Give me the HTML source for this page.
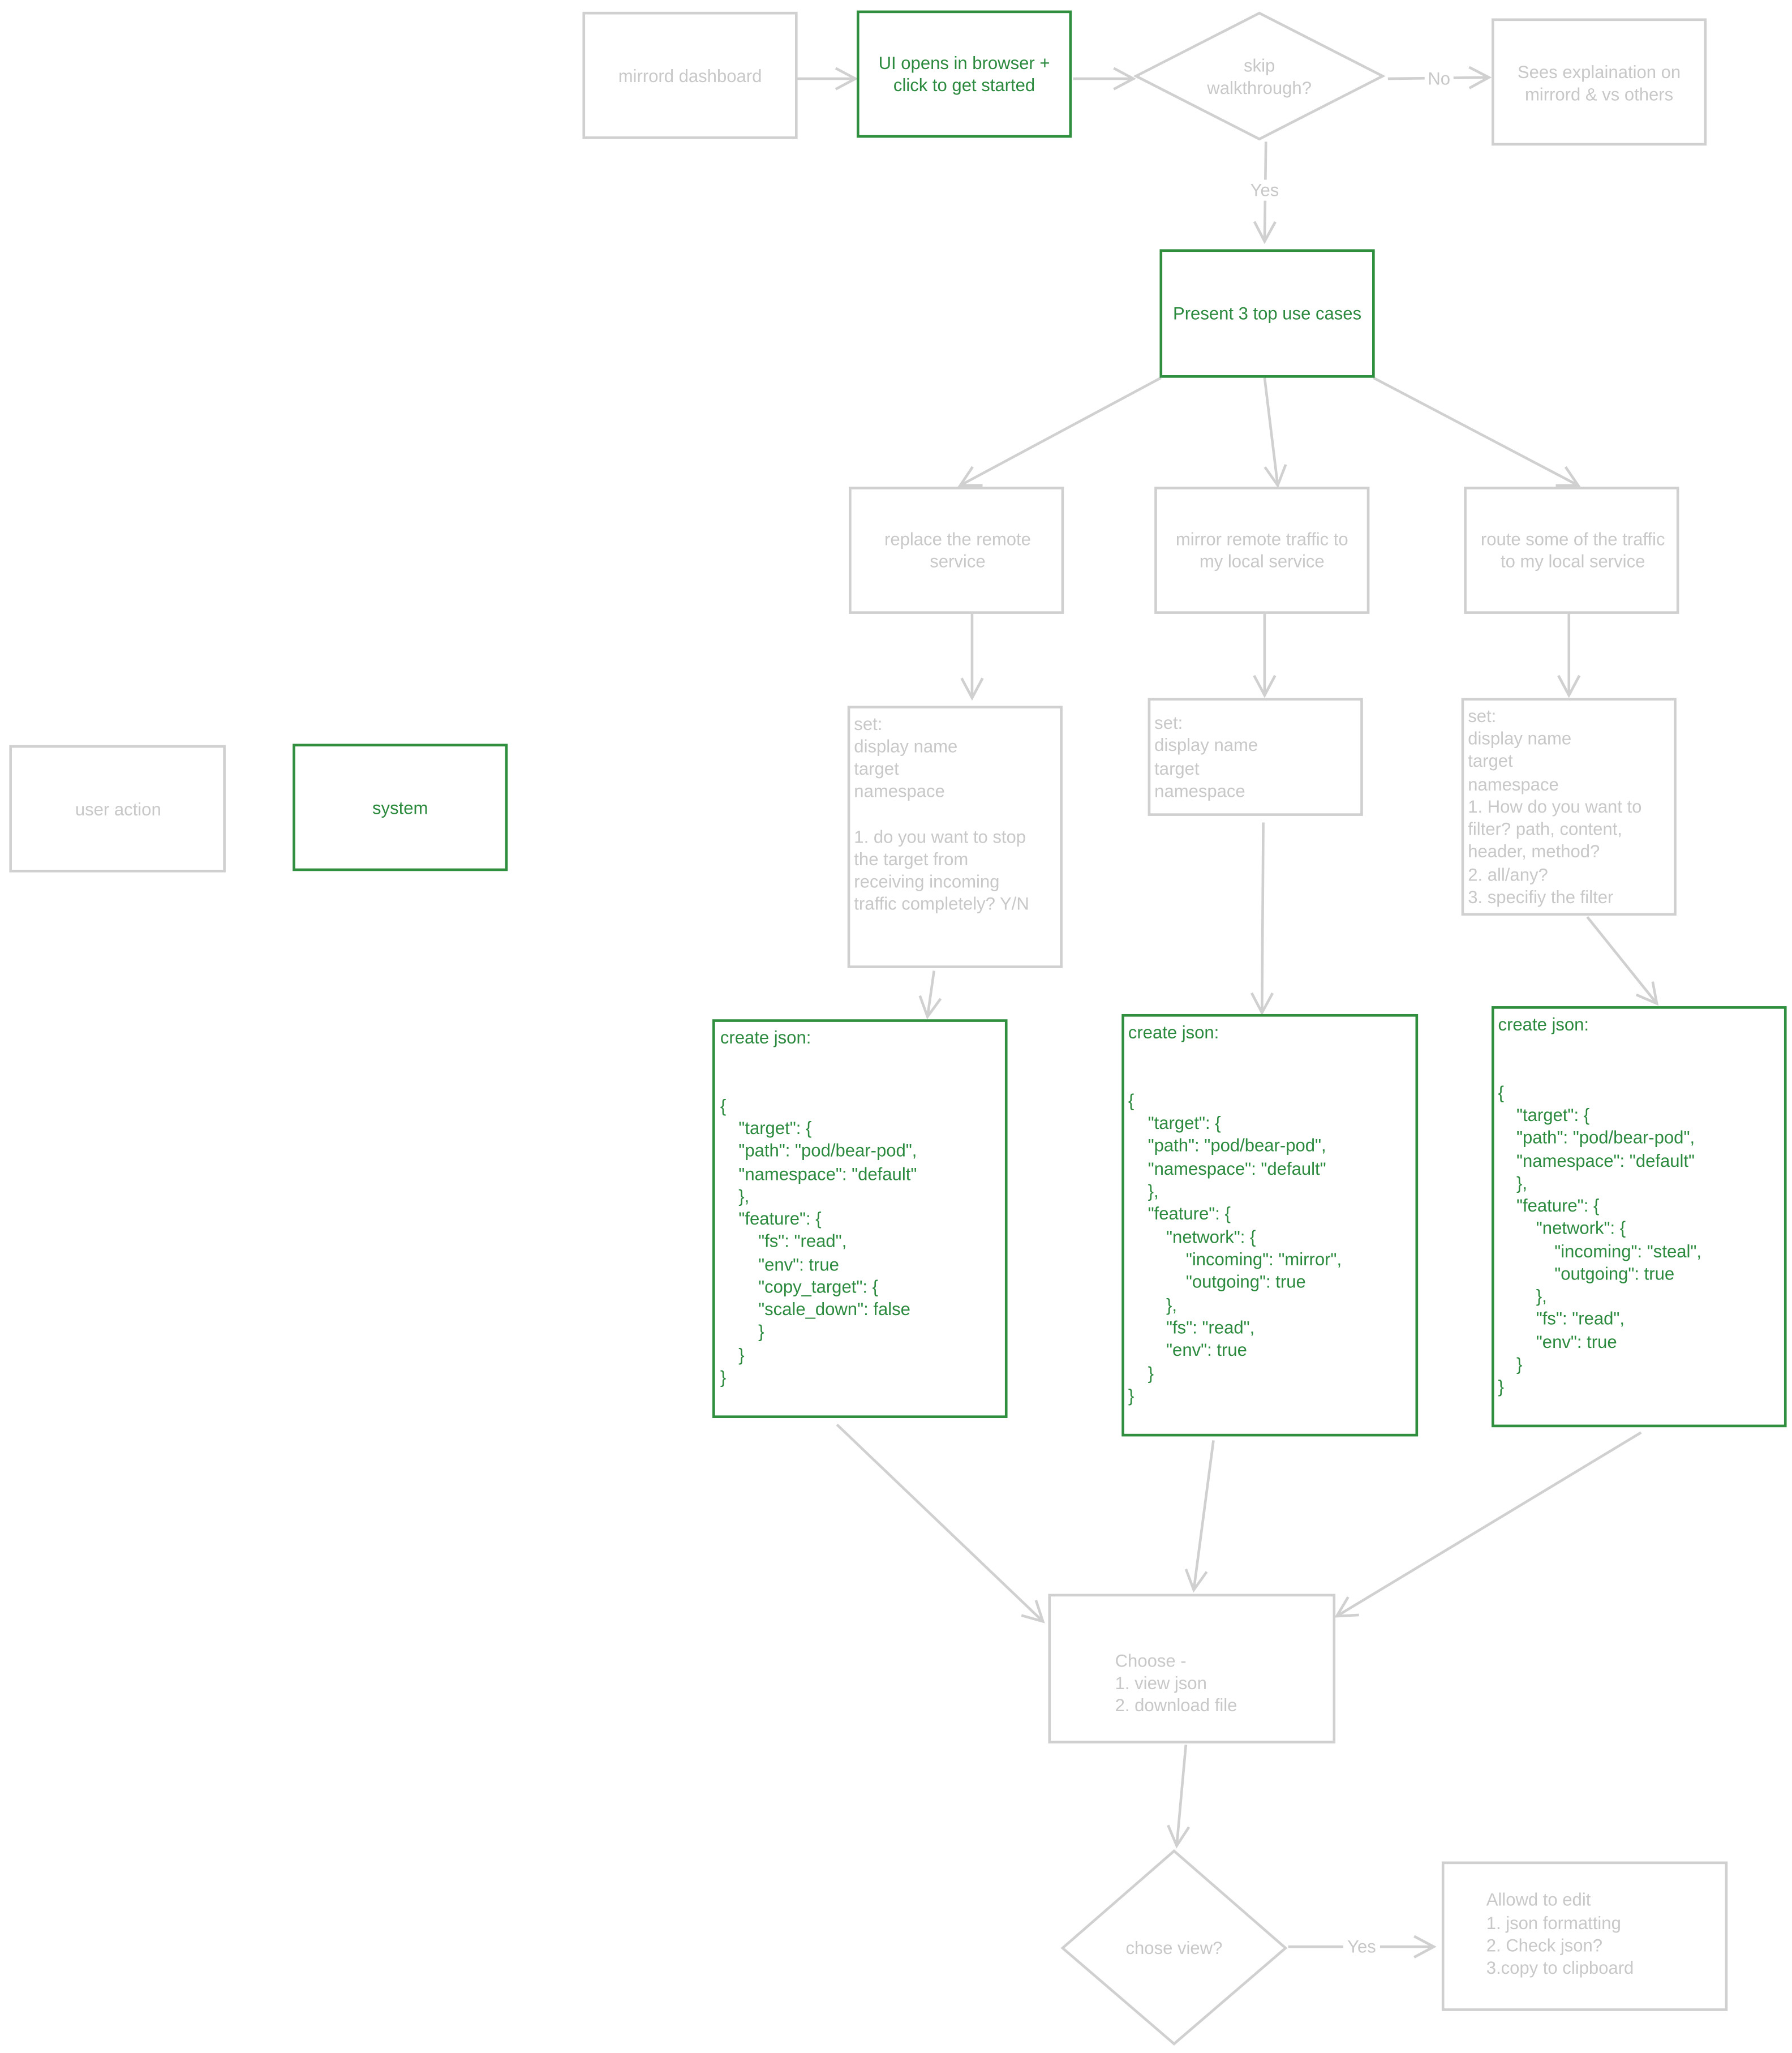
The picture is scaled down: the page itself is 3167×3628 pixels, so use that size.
<!DOCTYPE html>
<html><head><meta charset="utf-8"><style>
html,body{margin:0;padding:0;background:#fff;width:3167px;height:3628px;overflow:hidden}
svg{display:block}
.g{fill:#c8c8c8}
.k{fill:#2b8a3e}
text{font-family:"Liberation Sans",sans-serif;font-size:13.4px;dominant-baseline:central}
.c{text-anchor:middle}
.bg{fill:#fff;stroke:#d0d0d0;stroke-width:2}
.bk{fill:#fff;stroke:#2f8f3e;stroke-width:2}
.a{fill:none;stroke:#d0d0d0;stroke-width:2;marker-end:url(#m)}
</style></head><body>
<svg width="3167" height="3628" viewBox="0 0 1366 1565" xmlns="http://www.w3.org/2000/svg">
<defs><marker id="m" markerUnits="userSpaceOnUse" viewBox="0 0 20 20" refX="18" refY="10" markerWidth="20" markerHeight="20" orient="auto"><path d="M3,2 L18,10 L3,18" fill="none" stroke="#d0d0d0" stroke-width="2"/></marker></defs>

<!-- connectors -->
<path class="a" d="M607,60 L652,60"/>
<path class="a" d="M818,60 L864,60"/>
<path class="a" d="M1058,60 L1135,59"/>
<path class="a" d="M965,108 L964,184"/>
<path class="a" d="M885,288 L732,370"/>
<path class="a" d="M964,288 L974,370"/>
<path class="a" d="M1047,288 L1203,370"/>
<path class="a" d="M741,468 L741,532"/>
<path class="a" d="M964,468 L964,530"/>
<path class="a" d="M1196,466 L1196,530"/>
<path class="a" d="M712,740 L707,775"/>
<path class="a" d="M963,627 L962,772"/>
<path class="a" d="M1210,699 L1263,765"/>
<path class="a" d="M638,1086 L795,1236"/>
<path class="a" d="M925,1098 L910,1212"/>
<path class="a" d="M1251,1092 L1019,1232"/>
<path class="a" d="M904,1330 L897,1407"/>
<path class="a" d="M982,1484 L1093,1484"/>
<rect x="1086" y="51" width="22" height="16" fill="#fff"/>
<text class="g c" x="1097" y="60">No</text>
<rect x="950" y="137" width="28" height="16" fill="#fff"/>
<text class="g c" x="964" y="145">Yes</text>
<rect x="1024" y="1476" width="28" height="16" fill="#fff"/>
<text class="g c" x="1038" y="1484">Yes</text>

<!-- top row -->
<rect class="bg" x="445" y="10" width="162" height="95"/>
<text class="g c" x="526" y="58">mirrord dashboard</text>
<rect class="bk" x="654" y="9" width="162" height="95"/>
<text class="k c" x="735" y="48">UI opens in browser +</text>
<text class="k c" x="735" y="65">click to get started</text>
<path class="bg" d="M960,10 L1054,58 L960,106 L866,58 Z"/>
<text class="g c" x="960" y="50">skip</text>
<text class="g c" x="960" y="67">walkthrough?</text>
<rect class="bg" x="1138" y="15" width="162" height="95"/>
<text class="g c" x="1219" y="55">Sees explaination on</text>
<text class="g c" x="1219" y="72">mirrord &amp; vs others</text>

<rect class="bk" x="885" y="191" width="162" height="96"/>
<text class="k c" x="966" y="239">Present 3 top use cases</text>

<rect class="bg" x="648" y="372" width="162" height="95"/>
<text class="g c" x="730" y="411">replace the remote</text>
<text class="g c" x="730" y="428">service</text>
<rect class="bg" x="881" y="372" width="162" height="95"/>
<text class="g c" x="962" y="411">mirror remote traffic to</text>
<text class="g c" x="962" y="428">my local service</text>
<rect class="bg" x="1117" y="372" width="162" height="95"/>
<text class="g c" x="1199" y="411">route some of the traffic</text>
<text class="g c" x="1199" y="428">to my local service</text>

<!-- set boxes -->
<rect class="bg" x="647" y="539" width="162" height="198"/>
<text class="g" x="651" y="552">set:</text>
<text class="g" x="651" y="569">display name</text>
<text class="g" x="651" y="586">target</text>
<text class="g" x="651" y="603">namespace</text>
<text class="g" x="651" y="638">1. do you want to stop</text>
<text class="g" x="651" y="655">the target from</text>
<text class="g" x="651" y="672">receiving incoming</text>
<text class="g" x="651" y="689">traffic completely? Y/N</text>

<rect class="bg" x="876" y="533" width="162" height="88"/>
<text class="g" x="880" y="551">set:</text>
<text class="g" x="880" y="568">display name</text>
<text class="g" x="880" y="586">target</text>
<text class="g" x="880" y="603">namespace</text>

<rect class="bg" x="1115" y="533" width="162" height="164"/>
<text class="g" x="1119" y="546">set:</text>
<text class="g" x="1119" y="563">display name</text>
<text class="g" x="1119" y="580">target</text>
<text class="g" x="1119" y="598">namespace</text>
<text class="g" x="1119" y="615">1. How do you want to</text>
<text class="g" x="1119" y="632">filter? path, content,</text>
<text class="g" x="1119" y="649">header, method?</text>
<text class="g" x="1119" y="667">2. all/any?</text>
<text class="g" x="1119" y="684">3. specifiy the filter</text>

<!-- json boxes -->
<rect class="bk" x="544" y="778" width="223" height="302"/>
<text class="k" x="549" y="791">create json:</text>
<text class="k" x="549" y="843">{</text>
<text class="k" x="563" y="860">"target": {</text>
<text class="k" x="563" y="877">"path": "pod/bear-pod",</text>
<text class="k" x="563" y="895">"namespace": "default"</text>
<text class="k" x="563" y="912">},</text>
<text class="k" x="563" y="929">"feature": {</text>
<text class="k" x="578" y="946">"fs": "read",</text>
<text class="k" x="578" y="964">"env": true</text>
<text class="k" x="578" y="981">"copy_target": {</text>
<text class="k" x="578" y="998">"scale_down": false</text>
<text class="k" x="578" y="1015">}</text>
<text class="k" x="563" y="1033">}</text>
<text class="k" x="549" y="1050">}</text>

<rect class="bk" x="856" y="774" width="224" height="320"/>
<text class="k" x="860" y="787">create json:</text>
<text class="k" x="860" y="839">{</text>
<text class="k" x="875" y="856">"target": {</text>
<text class="k" x="875" y="873">"path": "pod/bear-pod",</text>
<text class="k" x="875" y="891">"namespace": "default"</text>
<text class="k" x="875" y="908">},</text>
<text class="k" x="875" y="925">"feature": {</text>
<text class="k" x="889" y="943">"network": {</text>
<text class="k" x="904" y="960">"incoming": "mirror",</text>
<text class="k" x="904" y="977">"outgoing": true</text>
<text class="k" x="889" y="995">},</text>
<text class="k" x="889" y="1012">"fs": "read",</text>
<text class="k" x="889" y="1029">"env": true</text>
<text class="k" x="875" y="1047">}</text>
<text class="k" x="860" y="1064">}</text>

<rect class="bk" x="1138" y="768" width="223" height="319"/>
<text class="k" x="1142" y="781">create json:</text>
<text class="k" x="1142" y="833">{</text>
<text class="k" x="1156" y="850">"target": {</text>
<text class="k" x="1156" y="867">"path": "pod/bear-pod",</text>
<text class="k" x="1156" y="885">"namespace": "default"</text>
<text class="k" x="1156" y="902">},</text>
<text class="k" x="1156" y="919">"feature": {</text>
<text class="k" x="1171" y="936">"network": {</text>
<text class="k" x="1185" y="954">"incoming": "steal",</text>
<text class="k" x="1185" y="971">"outgoing": true</text>
<text class="k" x="1171" y="988">},</text>
<text class="k" x="1171" y="1005">"fs": "read",</text>
<text class="k" x="1171" y="1023">"env": true</text>
<text class="k" x="1156" y="1040">}</text>
<text class="k" x="1142" y="1057">}</text>

<!-- bottom -->
<rect class="bg" x="800" y="1216" width="217" height="112"/>
<text class="g" x="850" y="1266">Choose -</text>
<text class="g" x="850" y="1283">1. view json</text>
<text class="g" x="850" y="1300">2. download file</text>
<path class="bg" d="M895,1411 L980,1485 L895,1558 L810,1485 Z"/>
<text class="g c" x="895" y="1485">chose view?</text>
<rect class="bg" x="1100" y="1420" width="216" height="112"/>
<text class="g" x="1133" y="1448">Allowd to edit</text>
<text class="g" x="1133" y="1466">1. json formatting</text>
<text class="g" x="1133" y="1483">2. Check json?</text>
<text class="g" x="1133" y="1500">3.copy to clipboard</text>

<!-- legend -->
<rect class="bg" x="8" y="569" width="163" height="95"/>
<text class="g c" x="90" y="617">user action</text>
<rect class="bk" x="224" y="568" width="162" height="95"/>
<text class="k c" x="305" y="616">system</text>
</svg>
</body></html>
